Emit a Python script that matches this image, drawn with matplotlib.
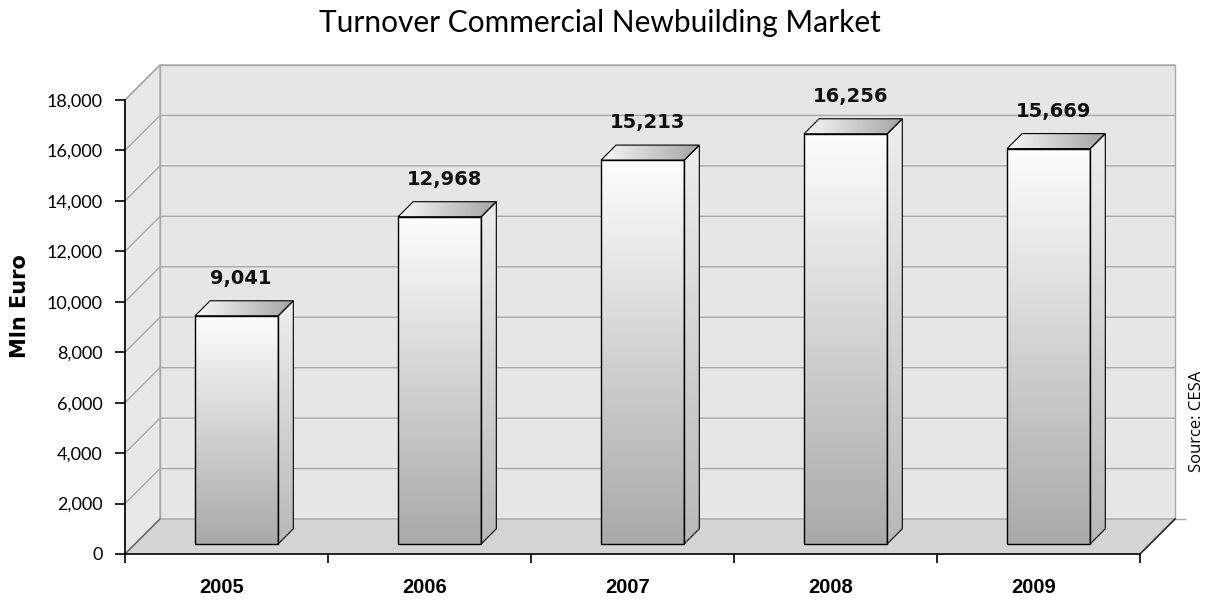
import numpy as np
import matplotlib
matplotlib.use("Agg")
import matplotlib.pyplot as plt
from matplotlib.patches import Polygon
from matplotlib.colors import LinearSegmentedColormap
import matplotlib.transforms as mtransforms

# ---- data ----
years = ["2005", "2006", "2007", "2008", "2009"]
values = [9041, 12968, 15213, 16256, 15669]
value_labels = ["9,041", "12,968", "15,213", "16,256", "15,669"]
yticks = [0, 2000, 4000, 6000, 8000, 10000, 12000, 14000, 16000, 18000]
ytick_labels = ["0", "2,000", "4,000", "6,000", "8,000", "10,000", "12,000",
                "14,000", "16,000", "18,000"]
title = "Turnover Commercial Newbuilding Market"
ylabel = "Mln Euro"
source = "Source: CESA"

W, H = 1209, 600
fig = plt.figure(figsize=(W / 100, H / 100), dpi=100)
fig.patch.set_facecolor("white")

# main axes (front plane)
ax = fig.add_axes([125 / W, 46 / H, (1140 - 125) / W, (554 - 100) / H])
ax.set_xlim(-0.5, len(years) - 0.5)
ax.set_ylim(0, 18000)
ax.patch.set_visible(False)
ax.set_zorder(2)

# overlay in pixel units for the 3D decoration
ov = fig.add_axes([0, 0, 1, 1])
ov.set_zorder(1)
ov.axis("off")

D = np.array([35.0, 35.0])  # depth offset in pixels


def P(x, y, f=0.0):
    p = ax.transData.transform((x, y))
    return (p[0] + f * D[0], p[1] + f * D[1])


x0, x1 = -0.5, len(years) - 0.5
ymax = 18000
wall = "#e6e6e6"
floor = "#d4d4d4"
gridc = "#a8a8a8"

# back wall
ov.add_patch(Polygon([P(x0, 0, 1), P(x1, 0, 1), P(x1, ymax, 1), P(x0, ymax, 1)],
                     closed=True, facecolor=wall, edgecolor=gridc, lw=1, zorder=1))
# left wall
ov.add_patch(Polygon([P(x0, 0, 0), P(x0, 0, 1), P(x0, ymax, 1), P(x0, ymax, 0)],
                     closed=True, facecolor="#e8e8e8", edgecolor=gridc, lw=1, zorder=1))
# floor
ov.add_patch(Polygon([P(x0, 0, 0), P(x1, 0, 0), P(x1, 0, 1), P(x0, 0, 1)],
                     closed=True, facecolor=floor, edgecolor="none", lw=0, zorder=1.5))

# grid lines
for yv in yticks:
    a, b, c = P(x0, yv, 0), P(x0, yv, 1), P(x1, yv, 1)
    ov.plot([a[0], b[0], c[0]], [a[1], b[1], c[1]], color=gridc, lw=1, zorder=1.6)
# small tick at back right corner
c = P(x1, 0, 1)
ov.plot([c[0], c[0] + 10], [c[1], c[1]], color=gridc, lw=1, zorder=1.6)
# right floor edge
a, b = P(x1, 0, 0), P(x1, 0, 1)
ov.plot([a[0], b[0]], [a[1], b[1]], color="#222222", lw=1.2, zorder=1.7)
a, b = P(x0, 0, 0), P(x0, 0, 1)
ov.plot([a[0], b[0]], [a[1], b[1]], color="#666666", lw=1, zorder=1.7)

# bars
bw = 0.41
f0, f1 = 0.29, 0.72
front_cmap = LinearSegmentedColormap.from_list("f", ["#a9a9a9", "#fdfdfd"])
side_cmap = LinearSegmentedColormap.from_list("s", ["#b8b8b8", "#eeeeee"])
top_cmap = LinearSegmentedColormap.from_list("t", ["#f8f8f8", "#a4a4a4"])
vgrad = np.linspace(0, 1, 256).reshape(-1, 1)
hgrad = np.linspace(0, 1, 256).reshape(1, -1)

for i, (v, lab) in enumerate(zip(values, value_labels)):
    L, R = i - bw / 2, i + bw / 2
    # front face
    fr = [P(L, 0, f0), P(R, 0, f0), P(R, v, f0), P(L, v, f0)]
    poly = Polygon(fr, closed=True, facecolor="none", edgecolor="black", lw=1, zorder=5)
    ov.add_patch(poly)
    im = ov.imshow(vgrad, cmap=front_cmap, origin="lower", aspect="auto",
                   extent=(fr[0][0], fr[1][0], fr[0][1], fr[2][1]), zorder=4,
                   interpolation="bilinear")
    im.set_clip_path(poly)
    # side face
    sd = [P(R, 0, f0), P(R, 0, f1), P(R, v, f1), P(R, v, f0)]
    spoly = Polygon(sd, closed=True, facecolor="none", edgecolor="black", lw=0.8, zorder=5)
    ov.add_patch(spoly)
    xs = [p[0] for p in sd]; ys = [p[1] for p in sd]
    im = ov.imshow(vgrad, cmap=side_cmap, origin="lower", aspect="auto",
                   extent=(min(xs), max(xs), min(ys), max(ys)), zorder=4,
                   interpolation="bilinear")
    im.set_clip_path(spoly)
    # top face
    tp = [P(L, v, f0), P(R, v, f0), P(R, v, f1), P(L, v, f1)]
    tpoly = Polygon(tp, closed=True, facecolor="none", edgecolor="black", lw=0.8, zorder=5)
    ov.add_patch(tpoly)
    xs = [p[0] for p in tp]; ys = [p[1] for p in tp]
    im = ov.imshow(hgrad, cmap=top_cmap, origin="lower", aspect="auto",
                   extent=(min(xs), max(xs), min(ys), max(ys)), zorder=4,
                   interpolation="bilinear")
    im.set_clip_path(tpoly)
    # value label
    cx = (P(L, v, f0)[0] + P(R, v, f1)[0]) / 2 - 3
    ty = P(R, v, f1)[1]
    ov.text(cx, ty + 13, lab, ha="center", va="bottom", fontsize=14,
            fontweight="bold", family="DejaVu Sans", color="#111111", zorder=6)

ov.set_xlim(0, W)
ov.set_ylim(0, H)

# axes styling
for s in ["top", "right"]:
    ax.spines[s].set_visible(False)
ax.spines["left"].set_color("black")
ax.spines["bottom"].set_color("black")
ax.spines["left"].set_linewidth(1.2)
ax.spines["bottom"].set_linewidth(1.2)
ax.set_yticks(yticks)
ax.set_yticklabels(ytick_labels, family="Lato", fontsize=13)
ax.tick_params(axis="y", direction="out", length=7.2, width=1.2, pad=9)
ax.set_xticks(range(len(years)))
ax.set_xticklabels(years, family="Liberation Sans", fontweight="bold", fontsize=14.5)
ax.set_xticks(np.arange(-0.5, len(years), 1.0), minor=True)
ax.tick_params(axis="x", which="major", length=0, pad=17)
ax.tick_params(axis="x", which="minor", direction="out", length=6.5, width=1.2)
shift = mtransforms.ScaledTranslation(-5 / 100, 0, fig.dpi_scale_trans)
for t in ax.get_xticklabels():
    t.set_transform(t.get_transform() + shift)

fig.text(20 / W, 1 - 306 / H, ylabel, ha="center", va="center", rotation=90,
         family="DejaVu Sans", fontweight="bold", fontsize=15)
fig.text(600 / W, 1 - 23 / H, title, ha="center", va="center", family="Lato", fontsize=21.5)
fig.text(1197 / W, 1 - 421 / H, source, ha="center", va="center", rotation=90,
         family="Open Sans", fontsize=12)

fig.savefig("out.png", dpi=100)
